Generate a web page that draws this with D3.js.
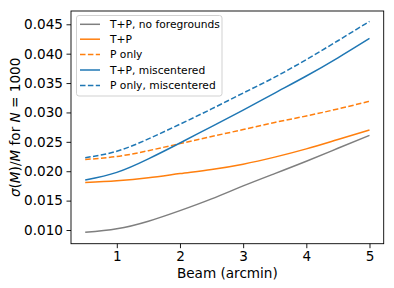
<!DOCTYPE html>
<html><head><meta charset="utf-8">
<script src="https://cdn.jsdelivr.net/npm/d3@7"></script>
<style>body{margin:0;background:#fff;} svg{display:block;font-family:"DejaVu Sans",sans-serif;}</style>
</head><body>
<svg id="c" width="394" height="288"></svg>
<script>
const beam = [0.5, 1, 1.5, 2, 2.5, 3, 3.5, 4, 4.5, 5];
const tpNoFg = [0.0096, 0.0102, 0.0115, 0.0133, 0.0153, 0.0175, 0.0196, 0.0217, 0.0239, 0.0261];
const tp = [0.0181, 0.0184, 0.0189, 0.0196, 0.0203, 0.0212, 0.0224, 0.0238, 0.0254, 0.0270];
const pOnly = [0.0220, 0.0225, 0.0235, 0.0247, 0.0259, 0.0271, 0.0283, 0.0294, 0.0306, 0.0319];
const tpMis = [0.0185, 0.0198, 0.0221, 0.0248, 0.0276, 0.0304, 0.0333, 0.0362, 0.0393, 0.0426];
const pOnlyMis = [0.0223, 0.0234, 0.0255, 0.0280, 0.0306, 0.0333, 0.0360, 0.0390, 0.0422, 0.0455];
const xTicks = [1, 2, 3, 4, 5];
const yTicks = [0.010, 0.015, 0.020, 0.025, 0.030, 0.035, 0.040, 0.045];
const seriesNames = ["T+P, no foregrounds", "T+P", "P only", "T+P, miscentered", "P only, miscentered"];
const seriesData = [tpNoFg, tp, pOnly, tpMis, pOnlyMis];
const seriesColors = ["#7f7f7f", "#ff7f0e", "#ff7f0e", "#1f77b4", "#1f77b4"];
const seriesDashed = [false, false, true, false, true];

const svg = d3.select("#c");
const L = 71, R = 383.7, T = 11, B = 243.7;
const x = d3.scaleLinear().domain([0.275, 5.225]).range([L, R]);
const y = d3.scaleLinear().domain([0.00767, 0.04726]).range([B, T]);

const line = d3.line().x((d, i) => x(beam[i])).y(d => y(d)).curve(d3.curveNatural);
seriesData.forEach((s, k) => {
  svg.append("path").attr("d", line(s)).attr("fill", "none")
    .attr("stroke", seriesColors[k]).attr("stroke-width", 1.5)
    .attr("stroke-dasharray", seriesDashed[k] ? "5.5,2.4" : null);
});

const fs = 13.6;
const xAxis = svg.append("g").attr("transform", `translate(0,${B})`)
  .call(d3.axisBottom(x).tickValues(xTicks).tickSize(4.5).tickPadding(3).tickFormat(d3.format("d")));
const yAxis = svg.append("g").attr("transform", `translate(${L},0)`)
  .call(d3.axisLeft(y).tickValues(yTicks).tickSize(4.5).tickPadding(3.5).tickFormat(d3.format(".3f")));
[xAxis, yAxis].forEach(a => {
  a.select(".domain").remove();
  a.selectAll("line").attr("stroke", "#000").attr("stroke-width", 0.9);
  a.selectAll("text").attr("font-size", fs).attr("font-family", "DejaVu Sans").attr("fill", "#000");
});

svg.append("rect").attr("x", L).attr("y", T).attr("width", R - L).attr("height", B - T)
  .attr("fill", "none").attr("stroke", "#000").attr("stroke-width", 0.9);

// legend
const lg = svg.append("g");
lg.append("rect").attr("x", 76.5).attr("y", 15.5).attr("width", 145.5).attr("height", 80.5)
  .attr("rx", 2.5).attr("fill", "#fff").attr("fill-opacity", 0.8).attr("stroke", "#cccccc").attr("stroke-width", 0.9);
const rowY = [24.3, 39.2, 54.5, 70, 85.5];
seriesNames.forEach((n, k) => {
  lg.append("line").attr("x1", 80).attr("x2", 100).attr("y1", rowY[k]).attr("y2", rowY[k])
    .attr("stroke", seriesColors[k]).attr("stroke-width", 1.5)
    .attr("stroke-dasharray", seriesDashed[k] ? "5.5,2.4" : null);
  lg.append("text").attr("x", 110).attr("y", rowY[k]).attr("dy", "0.36em")
    .attr("font-size", 10.7).attr("fill", "#000").text(n);
});

// axis labels
svg.append("text").attr("x", (L + R) / 2).attr("y", 278).attr("text-anchor", "middle")
  .attr("font-size", fs).attr("fill", "#000").text("Beam (arcmin)");
const yl = svg.append("text").attr("transform", `translate(20,${(T + B) / 2}) rotate(-90)`)
  .attr("text-anchor", "middle").attr("font-size", fs).attr("fill", "#000");
yl.append("tspan").attr("font-style", "italic").text("σ");
yl.append("tspan").text("(");
yl.append("tspan").attr("font-style", "italic").text("M");
yl.append("tspan").text(")/");
yl.append("tspan").attr("font-style", "italic").text("M");
yl.append("tspan").text(" for ");
yl.append("tspan").attr("font-style", "italic").text("N");
yl.append("tspan").text(" = 1000");
</script>
</body></html>
